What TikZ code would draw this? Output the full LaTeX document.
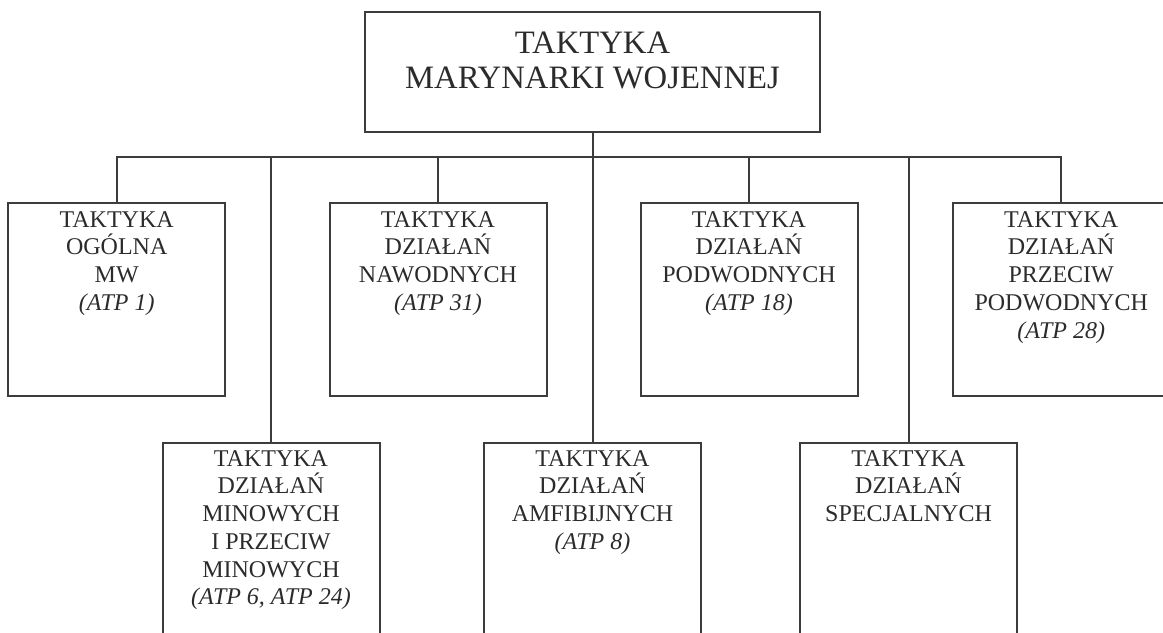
\documentclass[tikz,border=0pt]{standalone}
\usepackage{fontspec}
\setmainfont{Liberation Serif}
\definecolor{ln}{HTML}{3C3C3C}
\definecolor{tx}{HTML}{2B2B2B}
\begin{document}
\begin{tikzpicture}[x=0.75pt,y=-0.75pt,
  box/.style={draw=ln,line width=1.5pt,minimum width=162.75pt,minimum height=144.4pt,inner sep=0pt},
  topbox/.style={draw=ln,line width=1.5pt,minimum width=341.5pt,minimum height=90pt,inner sep=0pt},
  conn/.style={draw=ln,line width=1.5pt},
  lbl/.style={anchor=north,align=center,inner sep=0pt,text=tx,font=\fontsize{18}{20.8}\selectfont},
  ttl/.style={anchor=north,align=center,inner sep=0pt,text=tx,font=\fontsize{24.5}{26.25}\selectfont}]
\useasboundingbox (0,0) rectangle (1163,632);
\clip (0,0) rectangle (1163,632);
% boxes
\node[topbox] (top) at (592.5,71.7) {};
\node[box] (b1) at (116.7,299.5) {};
\node[box] (b2) at (438,299.5) {};
\node[box] (b3) at (749,299.5) {};
\node[box] (b4) at (1061.2,299.5) {};
\node[box] (b5) at (271,539.5) {};
\node[box] (b6) at (592.5,539.5) {};
\node[box] (b7) at (908.5,539.5) {};
% labels
\node[ttl] (ttop) at (592.5,31.3) {TAKTYKA\\MARYNARKI WOJENNEJ};
\node[lbl] (t1) at (116.7,211) {TAKTYKA\\OGÓLNA\\MW\\\textit{(ATP 1)}};
\node[lbl] (t2) at (438,211) {TAKTYKA\\DZIAŁAŃ\\NAWODNYCH\\\textit{(ATP 31)}};
\node[lbl] (t3) at (749,211) {TAKTYKA\\DZIAŁAŃ\\PODWODNYCH\\\textit{(ATP 18)}};
\node[lbl] (t4) at (1061.2,211) {TAKTYKA\\DZIAŁAŃ\\PRZECIW\\PODWODNYCH\\\textit{(ATP 28)}};
\node[lbl] (t5) at (271,450) {TAKTYKA\\DZIAŁAŃ\\MINOWYCH\\I PRZECIW\\MINOWYCH\\\textit{(ATP 6, ATP 24)}};
\node[lbl] (t6) at (592.5,450) {TAKTYKA\\DZIAŁAŃ\\AMFIBIJNYCH\\\textit{(ATP 8)}};
\node[lbl] (t7) at (908.5,450) {TAKTYKA\\DZIAŁAŃ\\SPECJALNYCH};
% connectors
\coordinate (bus) at (592.5,157);
\draw[conn] (top.south) -- (top.south |- b6.north);
\draw[conn] (b1.north) -- (b1.north |- bus) -- (b4.north |- bus) -- (b4.north);
\draw[conn] (b2.north) -- (b2.north |- bus);
\draw[conn] (b3.north) -- (b3.north |- bus);
\draw[conn] (b5.north) -- (b5.north |- bus);
\draw[conn] (b7.north) -- (b7.north |- bus);
\end{tikzpicture}
\end{document}
